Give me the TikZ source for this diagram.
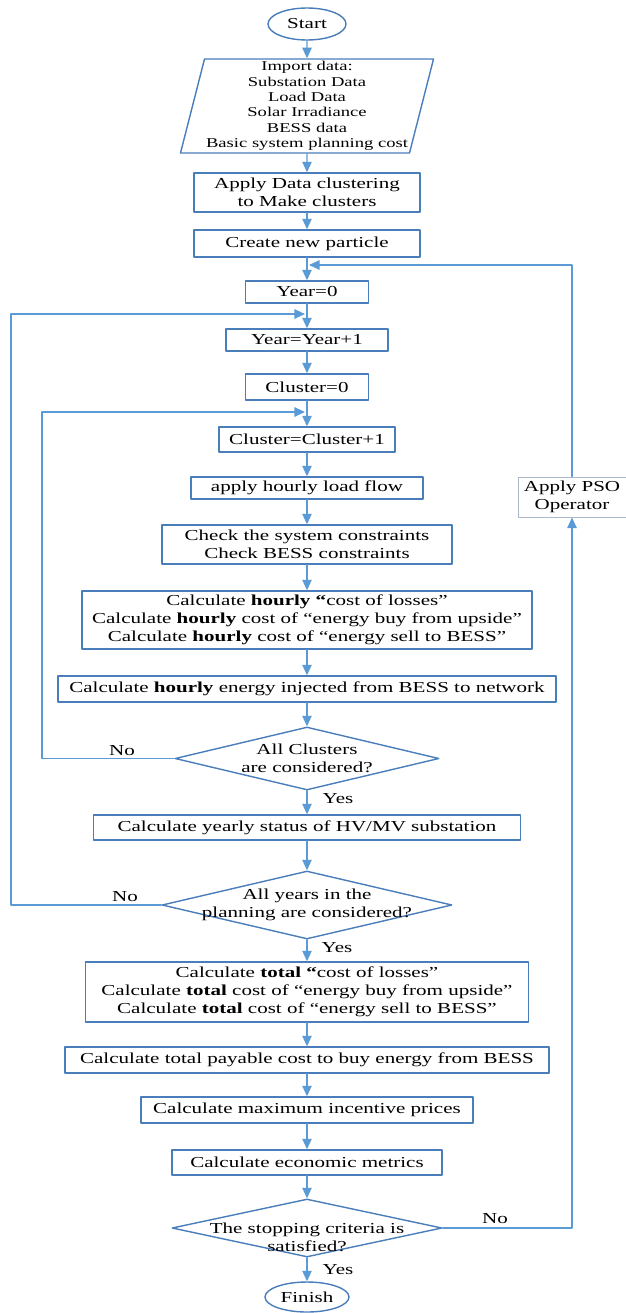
\documentclass[tikz,border=0pt]{standalone}
\usepackage{fontspec}
\setmainfont{Liberation Serif}[FakeStretch=1.38]
\usetikzlibrary{arrows.meta,shapes.geometric}
\definecolor{lineblue}{HTML}{5B9BD5}
\definecolor{edgeblue}{HTML}{4A7EBB}
\definecolor{psoedge}{HTML}{A9B9CB}
\tikzset{
  procbox/.style={draw=edgeblue,line width=1.2pt,rectangle,align=center,inner sep=1pt,font=\fontsize{13}{15.2}\selectfont},
  decision/.style={draw=edgeblue,line width=1.2pt,diamond,inner sep=0pt},
  dectext/.style={align=center,inner sep=0pt,font=\fontsize{13}{15.2}\selectfont},
  terminal/.style={draw=edgeblue,line width=1.2pt,ellipse,inner sep=0pt,font=\fontsize{13}{15.2}\selectfont},
  flow/.style={draw=lineblue,line width=1.2pt,->},
  lbl/.style={inner sep=0pt,font=\fontsize{13}{15.2}\selectfont}
}
\begin{document}
\begin{tikzpicture}[line cap=round,line join=round,>={Triangle[length=9pt,width=8pt]},x=0.03cm,y=-0.03cm]
\useasboundingbox (0,0) rectangle (626,1313);
\node[terminal,minimum width=2.34cm,minimum height=0.96cm] (start) at (307,24) {Start};
\node[draw=edgeblue,line width=1.2pt,trapezium,trapezium left angle=75,trapezium right angle=105,trapezium stretches body=true,minimum width=7.59cm,minimum height=2.82cm,inner sep=0pt,align=center,font=\fontsize{11.5}{13.2}\selectfont] (imp) at (307,106) {Import data:\\Substation Data\\Load Data\\Solar Irradiance\\BESS data\\Basic system planning cost};
\node[procbox,minimum width=6.78cm,minimum height=1.17cm] (clus) at (307,192.5) {Apply Data clustering\\to Make clusters};
\node[procbox,minimum width=6.78cm,minimum height=0.81cm] (newp) at (307,243.5) {Create new particle};
\node[procbox,minimum width=3.69cm,minimum height=0.66cm] (y0) at (307,292) {Year=0};
\node[procbox,minimum width=4.86cm,minimum height=0.66cm] (yinc) at (307,340) {Year=Year+1};
\node[procbox,minimum width=3.69cm,minimum height=0.78cm] (c0) at (307,387) {Cluster=0};
\node[procbox,minimum width=5.28cm,minimum height=0.75cm] (cinc) at (307,439.5) {Cluster=Cluster+1};
\node[procbox,minimum width=6.96cm,minimum height=0.66cm] (lf) at (307,488) {apply hourly load flow};
\node[procbox,minimum width=8.7cm,minimum height=1.17cm] (chk) at (307,544.5) {Check the system constraints\\Check BESS constraints};
\node[procbox,minimum width=13.5cm,minimum height=1.74cm] (hcost) at (307,620) {Calculate \textbf{hourly “}cost of losses”\\Calculate \textbf{hourly} cost of “energy buy from upside”\\Calculate \textbf{hourly} cost of “energy sell to BESS”};
\node[procbox,minimum width=14.94cm,minimum height=0.78cm] (hinj) at (307,689) {Calculate \textbf{hourly} energy injected from BESS to network};
\node[decision,minimum width=7.92cm,minimum height=1.89cm] (dclu) at (307,758.5) {};
\node[dectext] (dclut) at (307,758) {All Clusters\\are considered?};
\node[procbox,minimum width=12.81cm,minimum height=0.75cm] (hvmv) at (307,827.5) {Calculate yearly status of HV/MV substation};
\node[decision,minimum width=8.7cm,minimum height=2.04cm] (dyear) at (307,905) {};
\node[dectext] (dyeart) at (307,905) {All years in the\\planning are considered?};
\node[procbox,minimum width=13.29cm,minimum height=1.8cm] (tcost) at (307,992) {Calculate \textbf{total “}cost of losses”\\Calculate \textbf{total} cost of “energy buy from upside”\\Calculate \textbf{total} cost of “energy sell to BESS”};
\node[procbox,minimum width=14.52cm,minimum height=0.78cm] (pay) at (307,1060) {Calculate total payable cost to buy energy from BESS};
\node[procbox,minimum width=9.96cm,minimum height=0.78cm] (maxi) at (307,1110) {Calculate maximum incentive prices};
\node[procbox,minimum width=8.1cm,minimum height=0.75cm] (econ) at (307,1162.5) {Calculate economic metrics};
\node[decision,minimum width=8.1cm,minimum height=1.74cm] (dstop) at (307,1228) {};
\node[dectext] (dstopt) at (307,1237) {The stopping criteria is\\satisfied?};
\node[terminal,minimum width=2.52cm,minimum height=0.9cm] (fin) at (307,1297) {Finish};
\node[procbox,draw=psoedge,line width=0.8pt,minimum width=3.24cm,minimum height=1.2cm] (pso) at (572,497) {Apply PSO\\Operator};
\coordinate (fb) at (309,265);
\coordinate (ol) at (11,314);
\coordinate (oj) at (305,314);
\coordinate (il) at (42,412);
\coordinate (ij) at (305,412);
\draw[flow] (start) -- (imp);
\draw[flow] (imp) -- (clus);
\draw[flow] (clus) -- (newp);
\draw[flow] (newp) -- (y0);
\draw[flow] (y0) -- (yinc);
\draw[flow] (yinc) -- (c0);
\draw[flow] (c0) -- (cinc);
\draw[flow] (cinc) -- (lf);
\draw[flow] (lf) -- (chk);
\draw[flow] (chk) -- (hcost);
\draw[flow] (hcost) -- (hinj);
\draw[flow] (hinj) -- (dclu);
\draw[flow] (dclu) -- (hvmv);
\draw[flow] (hvmv) -- (dyear);
\draw[flow] (dyear) -- (tcost);
\draw[flow] (tcost) -- (pay);
\draw[flow] (pay) -- (maxi);
\draw[flow] (maxi) -- (econ);
\draw[flow] (econ) -- (dstop);
\draw[flow] (dstop) -- (fin);
\draw[flow] (dclu.west) -| (il) -- (ij);
\draw[flow] (dyear.west) -| (ol) -- (oj);
\draw[flow] (dstop.east) -| (pso.south);
\draw[flow] (pso.north) |- (fb);
\node[lbl] (no1) at (122,751) {No};
\node[lbl] (yes1) at (338,799) {Yes};
\node[lbl] (no2) at (125,897) {No};
\node[lbl] (yes2) at (337,948) {Yes};
\node[lbl] (no3) at (495,1219) {No};
\node[lbl] (yes3) at (338,1270) {Yes};
\end{tikzpicture}
\end{document}
